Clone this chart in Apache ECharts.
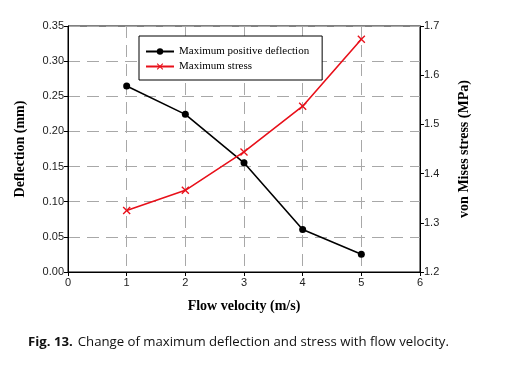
<!DOCTYPE html>
<html>
<head>
<meta charset="utf-8">
<script src="https://cdn.jsdelivr.net/npm/echarts@6/dist/echarts.min.js"></script>
<style>
html,body{margin:0;padding:0;background:#fff;}
#c{width:518px;height:369px;}
</style>
</head>
<body>
<div id="c"></div>
<script>
var velocity = [1, 2, 3, 4, 5];
var deflection = [0.2645, 0.2243, 0.1553, 0.0604, 0.0252];
var stress = [1.325, 1.366, 1.444, 1.537, 1.673];
var seriesNames = ['Maximum positive deflection', 'Maximum stress'];

var chart = echarts.init(document.getElementById('c'), null, {renderer: 'canvas'});
var serif = '"Liberation Serif", "Times New Roman", serif';
var sans = '"Liberation Sans", Arial, sans-serif';
var crossPath = 'path://M0,1.2L1.2,0L5,3.8L8.8,0L10,1.2L6.2,5L10,8.8L8.8,10L5,6.2L1.2,10L0,8.8L3.8,5Z';

function pairs(xs, ys){ return xs.map(function(x,i){ return [x, ys[i]]; }); }

chart.setOption({
  animation: false,
  backgroundColor: '#fff',
  title: {
    left: 28, top: 333, padding: 0,
    text: '{b|Fig. 13.} {r|Change of maximum deflection and stress with flow velocity.}',
    textStyle: {
      fontWeight: 'normal',
      rich: {
        b: {fontFamily: '"Open Sans", sans-serif', fontWeight: 'bold', fontSize: 13.2, color: '#111'},
        r: {fontFamily: '"Open Sans", sans-serif', fontWeight: 'normal', fontSize: 13.2, color: '#111'}
      }
    }
  },
  grid: {left: 68, right: 98, top: 26, bottom: 97, show: true, borderColor: '#000', borderWidth: 1, backgroundColor: 'transparent'},
  legend: {
    left: 139, top: 36, orient: 'vertical',
    width: 170,
    backgroundColor: '#fff',
    borderColor: '#000', borderWidth: 1, borderRadius: 0,
    padding: [9, 13, 7, 6],
    itemWidth: 28, itemHeight: 8, itemGap: 2,
    textStyle: {fontFamily: serif, fontSize: 11, color: '#000', lineHeight: 13},
    data: seriesNames
  },
  xAxis: {
    type: 'value', min: 0, max: 6, interval: 1,
    name: 'Flow velocity (m/s)', nameLocation: 'middle', nameGap: 27,
    nameTextStyle: {fontFamily: serif, fontWeight: 'bold', fontSize: 14, color: '#000'},
    axisLine: {show: true, onZero: false, lineStyle: {color: '#000', width: 1}},
    axisTick: {show: true, length: 4, lineStyle: {color: '#000'}},
    axisLabel: {fontFamily: sans, fontSize: 11, color: '#222', margin: 5},
    splitLine: {show: true, lineStyle: {color: '#a8a8a8', width: 1, type: [12, 7]}}
  },
  yAxis: [{
    type: 'value', min: 0, max: 0.35, interval: 0.05, position: 'left',
    name: 'Deflection (mm)', nameLocation: 'middle', nameGap: 41, nameRotate: 90,
    nameTextStyle: {fontFamily: serif, fontWeight: 'bold', fontSize: 14, color: '#000'},
    axisLine: {show: true, onZero: false, lineStyle: {color: '#000', width: 1}},
    axisTick: {show: true, length: 4, lineStyle: {color: '#000'}},
    axisLabel: {fontFamily: sans, fontSize: 11, color: '#222', margin: 4,
      formatter: function(v){ return v.toFixed(2); }},
    splitLine: {show: true, lineStyle: {color: '#a8a8a8', width: 1, type: [12, 7]}}
  }, {
    type: 'value', min: 1.2, max: 1.7, interval: 0.1, position: 'right',
    name: 'von Mises stress (MPa)', nameLocation: 'middle', nameGap: 37, nameRotate: 90,
    nameTextStyle: {fontFamily: serif, fontWeight: 'bold', fontSize: 14, color: '#000'},
    axisLine: {show: true, onZero: false, lineStyle: {color: '#000', width: 1}},
    axisTick: {show: true, length: 4, lineStyle: {color: '#000'}},
    axisLabel: {fontFamily: sans, fontSize: 11, color: '#222', margin: 4,
      formatter: function(v){ return v.toFixed(1); }},
    splitLine: {show: false}
  }],
  series: [{
    name: seriesNames[0], type: 'line', yAxisIndex: 0,
    data: pairs(velocity, deflection),
    symbol: 'circle', symbolSize: 7,
    lineStyle: {color: '#000', width: 1.6},
    itemStyle: {color: '#000'}
  }, {
    name: seriesNames[1], type: 'line', yAxisIndex: 1,
    data: pairs(velocity, stress),
    symbol: crossPath, symbolSize: 8,
    lineStyle: {color: '#e8101a', width: 1.6},
    itemStyle: {color: '#e8101a'}
  }]
});
</script>
</body>
</html>
